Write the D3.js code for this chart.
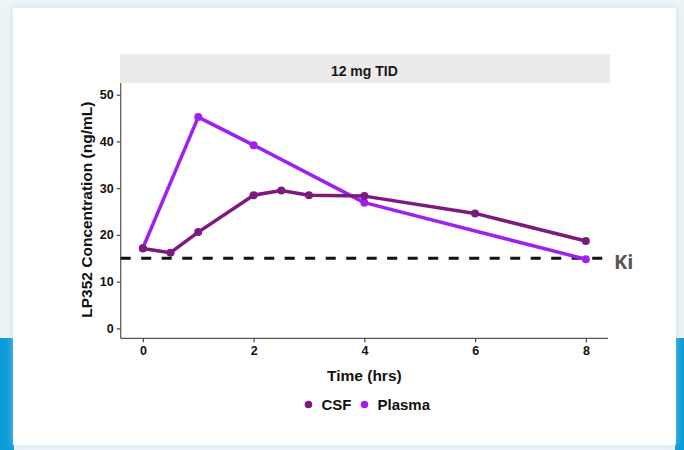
<!DOCTYPE html>
<html>
<head>
<meta charset="utf-8">
<script src="https://cdn.jsdelivr.net/npm/d3@7"></script>
<style>
  html, body { margin: 0; padding: 0; background: #edf4f8; }
  svg { display: block; }
  text { font-family: "Liberation Sans", Arial, sans-serif; }
</style>
</head>
<body>
<svg id="chart"></svg>
<script>
// data
const panelTitle = "12 mg TID";
const csfTime = [0, 0.5, 1, 2, 2.5, 3, 4, 6, 8];
const csfConc = [17.1, 16.2, 20.6, 28.5, 29.5, 28.5, 28.3, 24.6, 18.7];
const plasmaTime = [0, 1, 2, 4, 8];
const plasmaConc = [17.2, 45.2, 39.2, 26.9, 14.8];
const kiValue = 15;
const xTicks = [0, 2, 4, 6, 8];
const yTicks = [0, 10, 20, 30, 40, 50];
const seriesNames = ["CSF", "Plasma"];
const seriesColors = ["#7d1a7e", "#a020f0"];

const W = 684, H = 450;
const panel = { left: 120.7, right: 608, top: 83, bottom: 338.3 };

const svg = d3.select("#chart").attr("width", W).attr("height", H);

// page background: card + blue side bars
const defs = svg.append("defs");
const f = defs.append("filter").attr("id", "shadow").attr("x", -0.05).attr("y", -0.05).attr("width", 1.1).attr("height", 1.1);
f.append("feDropShadow").attr("dx", 0).attr("dy", 0).attr("stdDeviation", 4).attr("flood-color", "#b8d4e2").attr("flood-opacity", 0.6);

svg.append("rect").attr("x", 0).attr("y", 0).attr("width", W).attr("height", H).attr("fill", "#edf4f8");
svg.append("rect").attr("x", 0).attr("y", 338).attr("width", 14).attr("height", 112).attr("fill", "#0a9bd9");
svg.append("rect").attr("x", 675).attr("y", 338).attr("width", 9).attr("height", 112).attr("fill", "#0a9bd9");
svg.append("rect").attr("x", 13).attr("y", 8).attr("width", 663).attr("height", 437)
   .attr("fill", "#ffffff").attr("filter", "url(#shadow)");

// scales (ggplot style 5% expansion)
const x = d3.scaleLinear().domain([-0.4, 8.4]).range([panel.left, panel.right]);
const y = d3.scaleLinear().domain([-2.5, 52.5]).range([panel.bottom + 1.8, panel.top]);

// facet strip
svg.append("rect").attr("x", 120).attr("y", 54).attr("width", 490).attr("height", 29)
   .attr("fill", "#ebebeb");
svg.append("text").attr("x", (panel.left + panel.right) / 2).attr("y", 75.5)
   .attr("text-anchor", "middle").style("font-size", "14px").style("font-weight", "bold")
   .style("fill", "#1a1a1a").text(panelTitle);

// axes
const yAxis = svg.append("g").attr("transform", `translate(${panel.left},0)`)
   .call(d3.axisLeft(y).tickValues(yTicks).tickSize(4).tickPadding(3).tickSizeOuter(0));
const xAxis = svg.append("g").attr("transform", `translate(0,${panel.bottom})`)
   .call(d3.axisBottom(x).tickValues(xTicks).tickSize(4).tickPadding(4).tickSizeOuter(0));
yAxis.select(".domain").attr("d", `M0,${panel.top}V${panel.bottom}`);
xAxis.select(".domain").attr("d", `M${panel.left},0H${panel.right}`);
[xAxis, yAxis].forEach(a => {
  a.select(".domain").attr("stroke", "#555").attr("stroke-width", 1.2);
  a.selectAll(".tick line").attr("stroke", "#444").attr("stroke-width", 1.2);
  a.selectAll(".tick text").style("font-size", "12.5px").style("font-weight", "bold")
   .style("font-family", "'Liberation Sans', Arial, sans-serif").attr("fill", "#111");
});

// axis titles
svg.append("text").attr("transform", `translate(92,${(panel.top + panel.bottom) / 2 - 1}) rotate(-90)`)
   .attr("text-anchor", "middle").style("font-size", "15.5px").style("font-weight", "bold")
   .style("fill", "#111").text("LP352 Concentration (ng/mL)");
svg.append("text").attr("x", (panel.left + panel.right) / 2).attr("y", 380.5)
   .attr("text-anchor", "middle").style("font-size", "15.5px").style("font-weight", "bold")
   .style("fill", "#111").text("Time (hrs)");

// Ki reference line
svg.append("line").attr("x1", panel.left).attr("x2", panel.right - 4)
   .attr("y1", y(kiValue)).attr("y2", y(kiValue))
   .attr("stroke", "#111").attr("stroke-width", 3).attr("stroke-dasharray", "10,10.5");
svg.append("text").attr("x", 614).attr("y", y(kiValue) + 11)
   .style("font-family", "'Open Sans', sans-serif").style("font-size", "20px").style("font-weight", "bold")
   .style("fill", "#555").text("Ki");

// series
const series = [
  { name: seriesNames[0], color: seriesColors[0], pts: csfTime.map((t, i) => [t, csfConc[i]]) },
  { name: seriesNames[1], color: seriesColors[1], pts: plasmaTime.map((t, i) => [t, plasmaConc[i]]) }
];
const line = d3.line().x(d => x(d[0])).y(d => y(d[1]));

// plasma drawn first, CSF on top where they cross at t=0
[series[1], series[0]].forEach(s => {
  const g = svg.append("g");
  g.append("path").datum(s.pts).attr("d", line).attr("fill", "none")
   .attr("stroke", s.color).attr("stroke-width", 3.5).attr("stroke-linejoin", "round");
  g.selectAll("circle").data(s.pts).enter().append("circle")
   .attr("cx", d => x(d[0])).attr("cy", d => y(d[1])).attr("r", 4).attr("fill", s.color);
});

// legend
const legendX = [308.5, 364.5];
const legend = svg.append("g").attr("transform", "translate(0,404.5)");
series.forEach((s, i) => {
  legend.append("circle").attr("cx", legendX[i]).attr("cy", 0).attr("r", 3.8).attr("fill", s.color);
  legend.append("text").attr("x", legendX[i] + 13).attr("y", 5.5)
   .style("font-size", "15px").style("font-weight", "bold").style("fill", "#111").text(s.name);
});
</script>
</body>
</html>
